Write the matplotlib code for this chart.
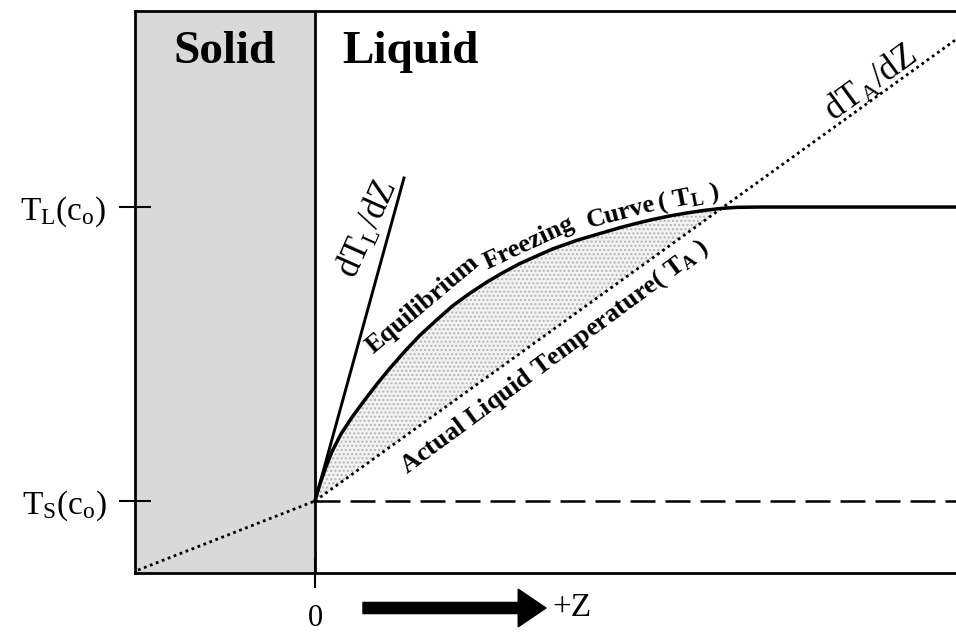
import numpy as np
import matplotlib
matplotlib.use("Agg")
import matplotlib.pyplot as plt

plt.rcParams["font.family"] = ["Liberation Serif", "DejaVu Serif"]
plt.rcParams["mathtext.fontset"] = "custom"
plt.rcParams["mathtext.rm"] = "Liberation Serif"
plt.rcParams["mathtext.it"] = "Liberation Serif"
plt.rcParams["mathtext.bf"] = "Liberation Serif:bold"
plt.rcParams["hatch.linewidth"] = 1.0

# Distance from the interface (z) and normalised temperature (T_S = 0, T_L = 1)
z_min, z_max = -1.8, 6.41
T_min, T_max = -0.245, 1.667

# Equilibrium freezing curve T_L(z) in the liquid
curve_z = [0.00, 0.02, 0.05, 0.10, 0.17, 0.26, 0.37, 0.50, 0.62, 0.75, 0.90,
           1.05, 1.22, 1.38, 1.55, 1.72, 1.88, 2.05, 2.22, 2.38, 2.62, 2.88,
           3.05, 3.22, 3.38, 3.55, 3.72, 3.88, 4.05, 4.22, 4.45, 6.41]
curve_T = [0.000, 0.024, 0.058, 0.108, 0.168, 0.228, 0.285, 0.345, 0.398,
           0.452, 0.510, 0.564, 0.617, 0.665, 0.707, 0.745, 0.777, 0.808,
           0.834, 0.858, 0.887, 0.913, 0.930, 0.945, 0.958, 0.970, 0.980,
           0.988, 0.995, 0.999, 1.000, 1.000]

# Actual temperature profile T_A(z): solid part and liquid part
solid_z = [-1.77, 0.0]
solid_TA = [-0.235, 0.0]
liquid_z = [0.0, 6.41]
liquid_TA = [0.0, 1.57]

# Tangent to the freezing curve at the interface
tangent_z = [0.0, 0.89]
tangent_T = [0.0, 1.099]

# Reference temperatures on the y axis
ytick_vals = [0.0, 1.0]
ytick_labels = [r"$\mathrm{T_S(c_o)}$", r"$\mathrm{T_L(c_o)}$"]
xtick_vals = [0.0]
xtick_labels = ["0"]

fig = plt.figure(figsize=(9.56, 6.33), dpi=100)
ax = fig.add_axes([135 / 956, 60 / 633, 821 / 956, 562 / 633])
ax.set_xlim(z_min, z_max)
ax.set_ylim(T_min, T_max)

# solid region
ax.axvspan(z_min, 0.0, color="#d9d9d9", zorder=0, lw=0)
ax.axvline(0.0, color="black", lw=2.0, zorder=4)

# constitutionally undercooled zone between T_L and T_A
cz = np.array(curve_z)
cT = np.array(curve_T)
TA_on_curve = np.interp(cz, liquid_z, liquid_TA)
mask = cz <= 4.3
ax.fill_between(cz[mask], TA_on_curve[mask], np.maximum(cT[mask], TA_on_curve[mask]),
                facecolor="#f2f2f2", edgecolor="#b4b4b4", hatch="....", lw=0, zorder=1)

ax.plot(curve_z, curve_T, color="black", lw=2.5, zorder=3, solid_joinstyle="round")
ax.plot(tangent_z, tangent_T, color="black", lw=2.1, zorder=3)
ax.plot(solid_z, solid_TA, color="black", lw=2.0, ls=(0, (1, 1.3)), zorder=3)
ax.plot(liquid_z, liquid_TA, color="black", lw=2.0, ls=(0, (1, 1.3)), zorder=3)
ax.plot([0.0, z_max], [0.0, 0.0], color="black", lw=1.8, ls=(0, (10, 4)), zorder=2)

# frame
for side in ("left", "bottom", "top"):
    ax.spines[side].set_linewidth(2.0)
ax.spines["right"].set_visible(False)

ax.set_yticks(ytick_vals)
ax.set_yticklabels(ytick_labels, fontsize=24)
ax.set_xticks(xtick_vals)
ax.set_xticklabels(xtick_labels, fontsize=22)
ax.tick_params(axis="y", direction="inout", length=23, width=1.5, pad=9)
ax.tick_params(axis="x", direction="inout", length=22, width=1.5, pad=11)

# region labels
ax.text(-1.42, 1.49, "Solid", fontsize=34, fontweight="bold", ha="left", va="baseline")
ax.text(0.27, 1.49, "Liquid", fontsize=34, fontweight="bold", ha="left", va="baseline")

# gradient labels
ax.text(0.53, 0.925, r"$\mathrm{dT_L/dZ}$", fontsize=25, rotation=66,
        ha="center", va="center", rotation_mode="anchor")
ax.text(5.56, 1.422, r"$\mathrm{dT_A/dZ}$", fontsize=25, rotation=36,
        ha="center", va="center", rotation_mode="anchor")

# curve labels
for word, zz, tt, rot in [("Equilibrium", 1.08, 0.668, 40),
                          ("Freezing", 2.14, 0.878, 25),
                          ("Curve", 3.06, 0.980, 15),
                          (r"$\mathbf{(\ T_L\ )}$", 3.73, 1.030, 11)]:
    ax.text(zz, tt, word, fontsize=19, fontweight="bold", rotation=rot,
            ha="center", va="center", rotation_mode="anchor")

ax.text(2.40, 0.490, r"Actual Liquid Temperature$\mathbf{(\ T_A\ )}$", fontsize=19,
        fontweight="bold", rotation=36.5, ha="center", va="center", rotation_mode="anchor")

# direction of growth
ax.annotate("", xy=(546, 25), xytext=(363, 25), xycoords="figure pixels",
            textcoords="figure pixels",
            arrowprops=dict(arrowstyle="simple,head_length=1.0,head_width=1.35,tail_width=0.4",
                            color="black", shrinkA=0, shrinkB=0, mutation_scale=20))
fig.text(552 / 956, 25 / 633, "+Z", fontsize=24, ha="left", va="center")

fig.savefig("out.png", dpi=100)
